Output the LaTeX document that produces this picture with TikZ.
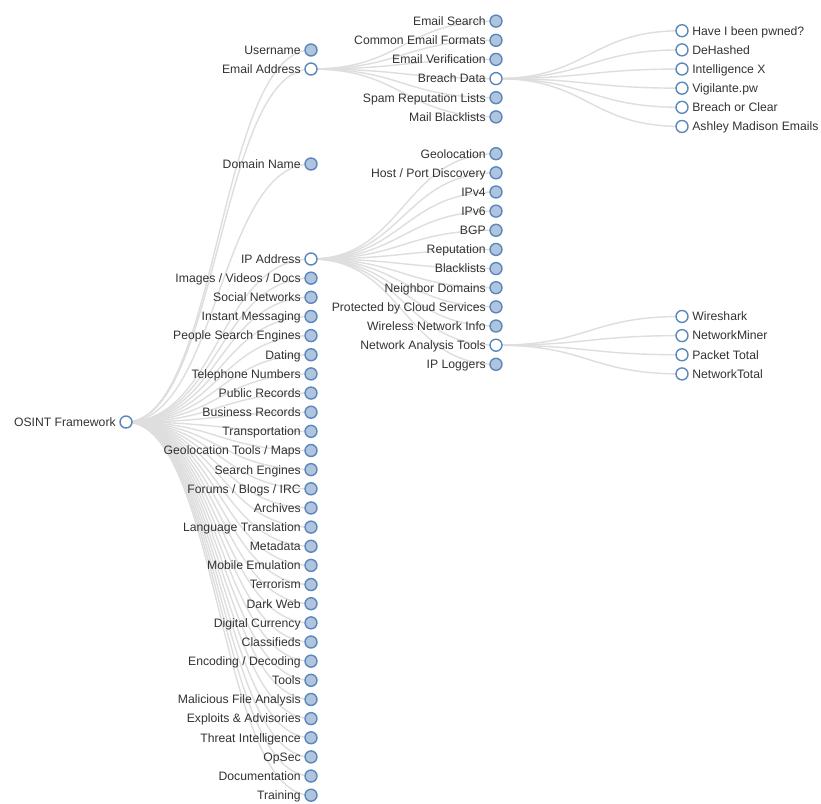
\documentclass[tikz,border=0pt]{standalone}
\usepackage{fontspec}
\setmainfont{Liberation Sans}
\usetikzlibrary{backgrounds}
\definecolor{steel}{HTML}{5A88BC}
\definecolor{lsb}{HTML}{B0C4DE}
\definecolor{linkc}{HTML}{DEDEDE}
\definecolor{txt}{HTML}{333333}
\begin{document}
\begin{tikzpicture}[x=1pt,y=-1pt,
  dot/.style={circle,draw=steel,line width=1.4pt,minimum size=12pt,inner sep=0pt},
  closed/.style={dot,fill=lsb},
  opened/.style={dot,fill=white},
  every label/.style={font=\fontsize{12.2}{14}\selectfont,text=txt,inner sep=0pt,text height=8.7pt,text depth=0pt},
  label distance=3.4pt,
  link/.style={draw=linkc,line width=1.4pt},
  curve/.style={out=0,in=180,out distance=92.5pt,in distance=92.5pt}]
\useasboundingbox (0,0) rectangle (821,803);
% root
\node[opened,label={left:OSINT Framework}] (root) at (126,422) {};
% level 1
\node[closed,label={left:Username}] (user) at (311,50) {};
\node[opened,label={left:Email Address}] (email) at (311,69) {};
\node[closed,label={left:Domain Name}] (domain) at (311,164) {};
\node[opened,label={left:IP Address}] (ip) at (311,259) {};
\foreach \t [count=\i from 1] in {Images / Videos / Docs,Social Networks,Instant Messaging,People Search Engines,Dating,Telephone Numbers,Public Records,Business Records,Transportation,Geolocation Tools / Maps,Search Engines,Forums / Blogs / IRC,Archives,Language Translation,Metadata,Mobile Emulation,Terrorism,Dark Web,Digital Currency,Classifieds,Encoding / Decoding,Tools,Malicious File Analysis,Exploits \& Advisories,Threat Intelligence,OpSec,Documentation,Training}
  \node[closed,label={left:\t}] (l\i) at (311,{259+19.15*\i}) {};
% level 2: email
\node[closed,label={left:Email Search}] (e1) at (496,21.1) {};
\node[closed,label={left:Common Email Formats}] (e2) at (496,40.3) {};
\node[closed,label={left:Email Verification}] (e3) at (496,59.4) {};
\node[opened,label={left:Breach Data}] (e4) at (496,78.6) {};
\node[closed,label={left:Spam Reputation Lists}] (e5) at (496,97.7) {};
\node[closed,label={left:Mail Blacklists}] (e6) at (496,116.9) {};
% level 2: ip
\foreach \t [count=\i from 0] in {Geolocation,Host / Port Discovery,IPv4,IPv6,BGP,Reputation,Blacklists,Neighbor Domains,Protected by Cloud Services,Wireless Network Info}
  \node[closed,label={left:\t}] (p\i) at (496,{259+19.15*(\i-5.5)}) {};
\node[opened,label={left:Network Analysis Tools}] (p10) at (496,345.2) {};
\node[closed,label={left:IP Loggers}] (p11) at (496,364.3) {};
% level 3: breach data
\foreach \t [count=\i from 0] in {Have I been pwned?,DeHashed,Intelligence X,Vigilante.pw,Breach or Clear,Ashley Madison Emails}
  \node[opened,label={right:\t}] (b\i) at (682,{78.6+19.15*(\i-2.5)}) {};
% level 3: network analysis tools
\foreach \t [count=\i from 0] in {Wireshark,NetworkMiner,Packet Total,NetworkTotal}
  \node[opened,label={right:\t}] (t\i) at (682,{345.2+19.15*(\i-1.5)}) {};
% links
\begin{scope}[on background layer]
  \fill[white] (0,0) rectangle (821,803);
  \foreach \n in {user,email,domain,ip} \draw[link] (root.center) to[curve] (\n.center);
  \foreach \i in {1,...,28} \draw[link] (root.center) to[curve] (l\i.center);
  \foreach \i in {1,...,6} \draw[link] (email.center) to[curve] (e\i.center);
  \foreach \i in {0,...,11} \draw[link] (ip.center) to[curve] (p\i.center);
  \foreach \i in {0,...,5} \draw[link] (e4.center) to[curve] (b\i.center);
  \foreach \i in {0,...,3} \draw[link] (p10.center) to[curve] (t\i.center);
\end{scope}
\end{tikzpicture}
\end{document}
